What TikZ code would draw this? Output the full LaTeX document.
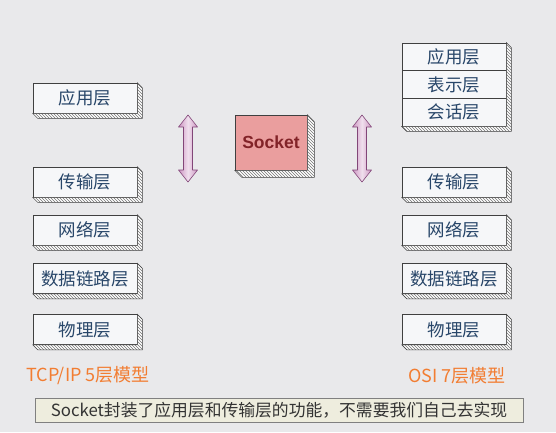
\documentclass[tikz,border=0pt]{standalone}
\usepackage{fontspec}
\setmainfont{Noto Sans CJK SC}
\newfontfamily\latinfont{Liberation Sans}
\usetikzlibrary{calc,patterns}
\definecolor{paper}{RGB}{233,233,235}
\definecolor{laytext}{RGB}{40,70,105}
\definecolor{layfill}{RGB}{246,247,249}
\definecolor{sockfill}{RGB}{234,158,158}
\definecolor{socktext}{RGB}{130,35,40}
\definecolor{arrfill}{RGB}{205,150,195}
\definecolor{arredge}{RGB}{130,70,120}
\definecolor{modeltext}{RGB}{242,125,50}
\definecolor{notefill}{RGB}{238,237,222}
\begin{document}
\begin{tikzpicture}[
       x=1pt,y=-1pt,
       layer/.style={
         draw=black!75,
         fill=layfill,
         line width=0.6pt,
         inner sep=0pt,
         minimum width=104pt,
         minimum height=30pt,
         text=laytext,
         font=\fontsize{17.5}{20}\selectfont
       },
       stacked/.style={
         layer,
         minimum height=27.7pt
       },
       depth/.style={
         draw=black!75,
         line width=0.5pt,
         preaction={fill=white},
         pattern=north west lines,
         pattern color=black!55
       },
       updown/.style={
         draw=arredge,
         line width=0.6pt,
         line join=round,
         left color=arrfill,
         right color=arrfill,
         middle color=arrfill!30
       },
       model/.style={
         text=modeltext,
         font=\fontsize{18}{20}\selectfont
       }
     ]

       \fill[paper] (0,0) rectangle (556,432);

       \node (app5) at (85,98) [layer]{应用层};
       \node (trans5) at (85,182) [layer]{传输层};
       \node (net5) at (85,230) [layer]{网络层};
       \node (link5) at (85,278.5) [layer]{数据链路层};
       \node (phy5) at (85,329.5) [layer]{物理层};

       \node (app7) at (454,56.8) [stacked]{应用层};
       \node (pres7) at (454,84.5) [stacked]{表示层};
       \node (sess7) at (454,112.2) [stacked]{会话层};
       \node (trans7) at (454,182) [layer]{传输层};
       \node (net7) at (454,230) [layer]{网络层};
       \node (link7) at (454,278.5) [layer]{数据链路层};
       \node (phy7) at (454,329.5) [layer]{物理层};

       \node (sock) at (271,142.5) [layer,fill=sockfill,minimum width=72pt,
         minimum height=55pt,text=socktext,
         font=\latinfont\bfseries\fontsize{17.5}{20}\selectfont]{Socket};

       \foreach \n in {app5,trans5,net5,link5,phy5,trans7,net7,link7,phy7}
         \draw[depth] (\n.north east) -- ++(5,5) -- ($(\n.south east)+(5,5)$)
           -- ($(\n.south west)+(5,5)$) -- (\n.south west) -- (\n.south east) -- cycle;
       \draw[depth] (app7.north east) -- ++(5,5) -- ($(sess7.south east)+(5,5)$)
         -- ($(sess7.south west)+(5,5)$) -- (sess7.south west) -- (sess7.south east) -- cycle;
       \draw[depth] (sock.north east) -- ++(7,7) -- ($(sock.south east)+(7,7)$)
         -- ($(sock.south west)+(7,7)$) -- (sock.south west) -- (sock.south east) -- cycle;

       \coordinate (arrL) at (188,148.5);
       \coordinate (arrR) at (362,148.5);
       \foreach \a in {arrL,arrR}
         \draw[updown] (\a) ++(0,-33.5) -- ++(9.5,12) -- ++(-5,0) -- ++(0,43)
           -- ++(5,0) -- ++(-9.5,12) -- ++(-9.5,-12) -- ++(5,0) -- ++(0,-43)
           -- ++(-5,0) -- cycle;

       \node (tcp) at (88,376) [model]{TCP/IP 5层模型};
       \node (osi) at (457,376) [model]{OSI 7层模型};

       \node (note) at (279,410) [draw=black!50,fill=notefill,line width=0.6pt,
         minimum width=488pt,minimum height=24pt,inner sep=0pt,text=black!80,
         font=\fontsize{16.8}{18}\selectfont]{Socket封装了应用层和传输层的功能，不需要我们自己去实现};

\end{tikzpicture}
\end{document}
